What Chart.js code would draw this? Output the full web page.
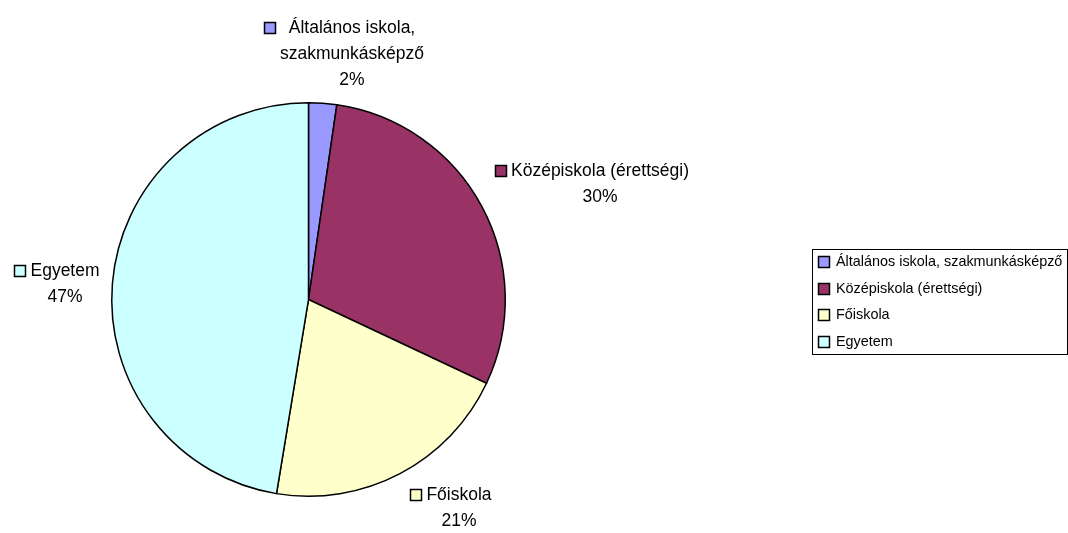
<!DOCTYPE html>
<html>
<head>
<meta charset="utf-8">
<script src="https://cdn.jsdelivr.net/npm/chart.js@4.4.1/dist/chart.umd.min.js"></script>
<style>
  html, body { margin: 0; padding: 0; background: #fff; }
  #wrap { position: relative; width: 1068px; height: 533px; }
</style>
</head>
<body>
<div id="wrap"><canvas id="chart" width="1068" height="533"></canvas></div>
<script>
// data
const categories = ["Általános iskola, szakmunkásképző", "Középiskola (érettségi)", "Főiskola", "Egyetem"];
const shares = [2.3, 29.7, 20.6, 47.4];
const colors = ["#9999FF", "#993366", "#FFFFCC", "#CCFFFF"];

// label text split into lines, and block centres
const labelLines = [["Általános iskola,", "szakmunkásképző"], ["Középiskola (érettségi)"], ["Főiskola"], ["Egyetem"]];
const labelPos = [
  { x: 352, y: 28 },
  { x: 600, y: 171 },
  { x: 459, y: 495 },
  { x: 65, y: 271 },
];

const FONT = '"Liberation Sans", Arial, sans-serif';

function keySquare(ctx, x, y, color) {
  ctx.fillStyle = color;
  ctx.fillRect(x, y, 11, 11);
  ctx.strokeStyle = "#000";
  ctx.lineWidth = 1.5;
  ctx.strokeRect(x, y, 11, 11);
}

const labelsPlugin = {
  id: "excelLabels",
  afterDraw(chart) {
    const ctx = chart.ctx;
    const total = shares.reduce((a, b) => a + b, 0);
    ctx.save();
    ctx.font = "17.5px " + FONT;
    ctx.textBaseline = "middle";
    ctx.textAlign = "center";
    const lh = 26;
    labelLines.forEach((lines, i) => {
      const p = labelPos[i];
      const all = lines.concat([Math.round(shares[i] / total * 100) + "%"]);
      const blockW = Math.max(...all.map(t => ctx.measureText(t).width));
      // key square sits left of the whole text block
      keySquare(ctx, Math.round(p.x - blockW / 2 - 16) + 0.5, p.y - 5.5, colors[i]);
      ctx.fillStyle = "#000";
      all.forEach((t, j) => ctx.fillText(t, p.x, p.y + j * lh));
    });

    // legend box on the right
    const bx = 812.5, by = 249.5, bw = 255, bh = 105;
    ctx.strokeStyle = "#000";
    ctx.lineWidth = 1;
    ctx.strokeRect(bx, by, bw, bh);
    ctx.font = "14.4px " + FONT;
    ctx.textAlign = "left";
    categories.forEach((c, i) => {
      const y = 262 + i * 26.7;
      keySquare(ctx, 818.5, Math.round(y) - 5.5, colors[i]);
      ctx.fillStyle = "#000";
      ctx.fillText(c, 836, y);
    });
    ctx.restore();
  }
};

new Chart(document.getElementById("chart"), {
  type: "pie",
  data: {
    labels: categories,
    datasets: [{
      data: shares,
      backgroundColor: colors,
      borderColor: "#000",
      borderWidth: 1.5,
      borderJoinStyle: "miter",
    }],
  },
  options: {
    responsive: false,
    animation: false,
    layout: { padding: { left: 111, right: 562, top: 102, bottom: 36 } },
    plugins: {
      legend: { display: false },
      tooltip: { enabled: false },
    },
  },
  plugins: [labelsPlugin],
});
</script>
</body>
</html>
